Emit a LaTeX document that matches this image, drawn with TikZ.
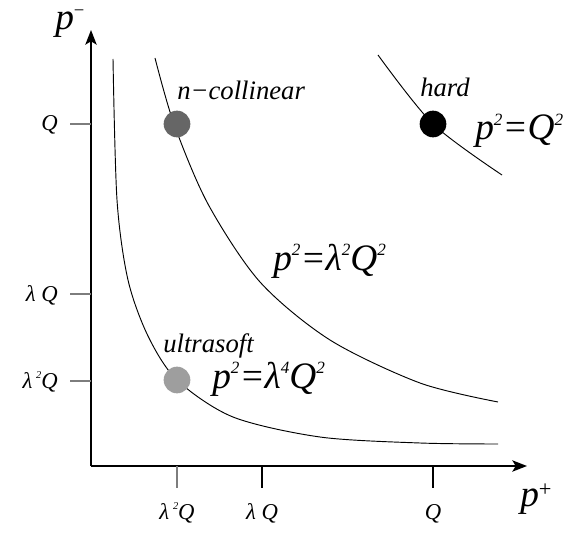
\documentclass[tikz,border=0pt]{standalone}
\usepackage{fontspec}
\setmainfont{Liberation Serif}[ItalicFont={Liberation Serif Italic}]
\usepackage{graphicx}
\usetikzlibrary{arrows.meta, positioning}
\definecolor{collgray}{RGB}{102,102,102}
\definecolor{usoftgray}{RGB}{158,158,158}
\definecolor{tickgray}{RGB}{125,125,125}
\newcommand{\up}[1]{\raisebox{0.4em}{\scalebox{0.46}{#1}}}
\newcommand{\lam}{λ}
\tikzset{
  axis/.style={line width=1.2pt, -{Stealth[length=11pt, width=8.5pt, inset=2.5pt]}},
  curve/.style={line width=0.7pt},
  tickmark/.style={line width=1pt},
  dot/.style={circle, inner sep=0pt, minimum size=20pt},
  ticklbl/.style={font=\fontsize{17}{19}\selectfont\itshape, inner sep=0pt},
  regionlbl/.style={font=\fontsize{20}{22}\selectfont\itshape, inner sep=0pt},
  eqlbl/.style={font=\fontsize{28}{30}\selectfont\itshape, inner sep=0pt}
}

\begin{document}
\begin{tikzpicture}[x=0.75pt, y=-0.75pt]
  \useasboundingbox (0,0) rectangle (573,534);

  % axes
  \coordinate (O) at (91,466);
  \coordinate (ytop) at (91,30);
  \coordinate (xend) at (527,466);
  \draw[axis] (O) -- (ytop);
  \draw[axis] (O) -- (xend);
  \node[eqlbl, anchor=base west] (pminus) at (55,30) {p\raisebox{0.36em}{\scalebox{0.5}{\upshape −}}};
  \node[eqlbl, anchor=base west] (pplus) at (520,506) {p\raisebox{0.25em}{\scalebox{0.6}{\upshape +}}};

  % ticks on p^- axis
  \foreach \yy/\lbl/\nm in {124/{Q}/yq, 294/{\lam\ Q}/ylq, 381/{\lam\,\up{2}Q}/yllq} {
    \draw[tickmark, tickgray] (70,\yy) -- (91,\yy);
    \node[ticklbl, anchor=base east] (\nm) at (58,\yy+7) {\lbl};
  }
  % ticks on p^+ axis
  \foreach \xx/\lbl/\nm/\col in {177/{\lam\,\up{2}Q}/xllq/tickgray, 262/{\lam\ Q}/xlq/black, 433/{Q}/xq/black} {
    \draw[tickmark, \col] (\xx,466) -- (\xx,488);
    \node[ticklbl, anchor=base] (\nm) at (\xx,519) {\lbl};
  }

  % curves p^2 = const
  \draw[curve] plot[smooth] coordinates {(113,59) (117,200) (128,280) (148,336)
    (177,380) (233,417) (320,437) (420,443) (498,444)};
  \draw[curve] plot[smooth] coordinates {(155,58) (174,124) (208,204)
    (260,282) (330,340) (420,383) (498,402)};
  \draw[curve] plot[smooth] coordinates {(378,55) (433,124) (502,175)};

  % regions
  \node[dot, fill=black] (hard) at (433,124) {};
  \node[dot, fill=collgray] (coll) at (177,124) {};
  \node[dot, fill=usoftgray] (usoft) at (177,380) {};
  \node[regionlbl, anchor=base west] (hardlbl) at (420,97) {hard};
  \node[regionlbl, anchor=base west] (colllbl) at (177,100) {n−collinear};
  \node[regionlbl, anchor=base west] (usoftlbl) at (163,352) {ultrasoft};

  \node[eqlbl, anchor=base west] (hardeq) at (475,140) {p\up{2}=Q\up{2}};
  \node[eqlbl, anchor=base west] (colleq) at (273,270) {p\up{2}=\lam\up{2}Q\up{2}};
  \node[eqlbl, anchor=base west] (usofteq) at (212,388) {p\up{2}=\lam\up{4}Q\up{2}};
\end{tikzpicture}
\end{document}
